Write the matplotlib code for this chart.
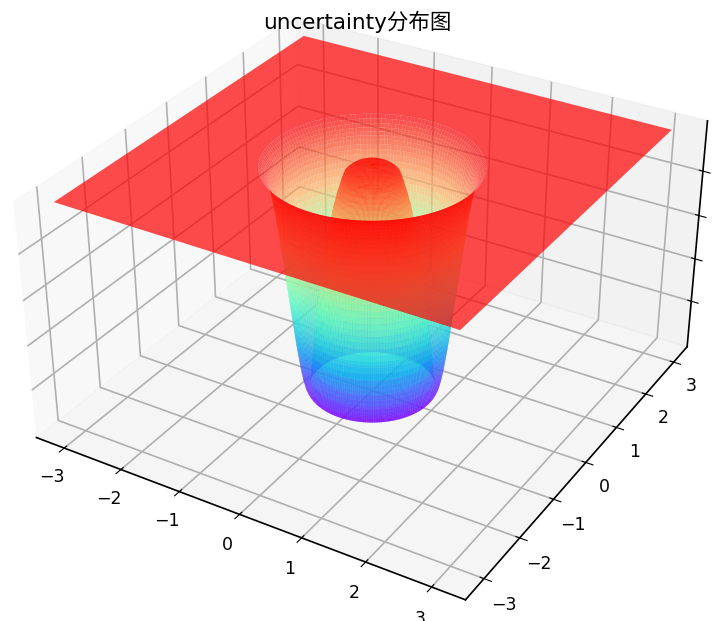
import numpy as np
import matplotlib
matplotlib.use('Agg')
import matplotlib.pyplot as plt
from mpl_toolkits.mplot3d.art3d import Poly3DCollection

plt.rcParams['font.family'] = ['DejaVu Sans', 'Noto Sans CJK SC']
plt.rcParams['grid.linewidth'] = 1.2
plt.rcParams['axes.linewidth'] = 1.2

# radial profile of the surface
radius_bump = [0.0, 0.02, 0.04, 0.06, 0.09, 0.11, 0.13, 0.15, 0.17, 0.19, 0.215, 0.235, 0.26, 0.28, 0.30, 0.32,
               0.34, 0.365, 0.39, 0.41, 0.43, 0.45, 0.47, 0.495, 0.515, 0.54, 0.56, 0.58, 0.60, 0.62, 0.645, 0.665,
               0.69, 0.71, 0.73, 0.75, 0.77, 0.795, 0.815, 0.84, 0.86, 0.88, 0.90, 0.92]
z_bump = [1.0, 1.0, 1.0, 1.0, 1.0, 1.0, 1.0, 1.0, 0.999, 0.998, 0.997, 0.995, 0.993, 0.99, 0.987, 0.983,
          0.978, 0.972, 0.965, 0.95, 0.935, 0.915, 0.895, 0.875, 0.85, 0.825, 0.80, 0.77, 0.74, 0.71, 0.68, 0.64,
          0.60, 0.56, 0.52, 0.47, 0.42, 0.37, 0.31, 0.25, 0.18, 0.12, 0.06, 0.02]
radius_wall = [0.93, 0.943, 0.956, 0.969, 0.982, 0.995, 1.008, 1.021, 1.034, 1.047, 1.06, 1.073, 1.086, 1.099, 1.112, 1.125,
               1.138, 1.151, 1.164, 1.177, 1.19, 1.203, 1.216, 1.229, 1.242, 1.255, 1.268, 1.281, 1.294, 1.307, 1.32, 1.333,
               1.346, 1.359, 1.372, 1.385, 1.398, 1.411, 1.424, 1.437, 1.45]
z_wall = [0.0, 0.002, 0.006, 0.012, 0.02, 0.03, 0.045, 0.06, 0.08, 0.1, 0.125, 0.15, 0.175, 0.2, 0.23, 0.26,
          0.29, 0.32, 0.35, 0.38, 0.41, 0.44, 0.47, 0.5, 0.53, 0.56, 0.59, 0.62, 0.65, 0.68, 0.71, 0.74,
          0.77, 0.8, 0.825, 0.85, 0.87, 0.89, 0.91, 0.925, 0.94]
radius_flare = [1.47, 1.5, 1.54, 1.58]
z_flare = [0.955, 0.97, 0.985, 1.0]
plane_level = 1.0
plane_half_width = 3.12
axis_limit = 3.5
axis_ticks = [-3, -2, -1, 0, 1, 2, 3]
z_ticks = [0.2, 0.4, 0.6, 0.8]
title = 'uncertainty分布图'

radius = np.array(radius_bump + radius_wall + radius_flare)
uncertainty = np.array(z_bump + z_wall + z_flare)
theta = np.radians(np.arange(0, 361, 2))
R, T = np.meshgrid(radius, theta)
X = R * np.cos(T)
Y = R * np.sin(T)
Z = np.tile(uncertainty, (len(theta), 1))

fig = plt.figure(figsize=(7.18, 6.21), dpi=100)
ax = fig.add_axes([-0.075, -0.045, 1.16, 1.16], projection='3d')
ax.computed_zorder = False
surface = ax.plot_surface(X, Y, Z, rstride=1, cstride=1, cmap='rainbow', alpha=0.7, linewidth=0,
                          antialiased=True, zorder=1)

# the flat part of the surface: a square sheet with the round hole cut out through a slit
lo, hi = -plane_half_width, plane_half_width
rim = radius_flare[-1]
outline = [(hi, 0), (hi, hi), (lo, hi), (lo, lo), (hi, lo), (hi, 0)]
hole = [(rim * np.cos(a), rim * np.sin(a)) for a in -theta]
verts = [(x, y, plane_level) for x, y in outline + hole]
sheet = Poly3DCollection([verts], facecolors=plt.get_cmap('rainbow')(1.0), edgecolors='none', alpha=0.7, zorder=2)
ax.add_collection3d(sheet)

ax.set_xlim(-axis_limit, axis_limit)
ax.set_ylim(-axis_limit, axis_limit)
ax.view_init(elev=31, azim=-59)
ax.set_proj_type('persp', focal_length=0.55)
ax.set_box_aspect((4, 4, 2.2))
ax.set_xticks(axis_ticks)
ax.set_yticks(axis_ticks)
ax.set_zticks(z_ticks)
ax.tick_params(labelsize=12.5)
ax.tick_params(axis='z', pad=12)
fig.text(0.497, 0.965, title, ha='center', va='center', fontsize=15.5)
fig.savefig('out.png', dpi=100)
